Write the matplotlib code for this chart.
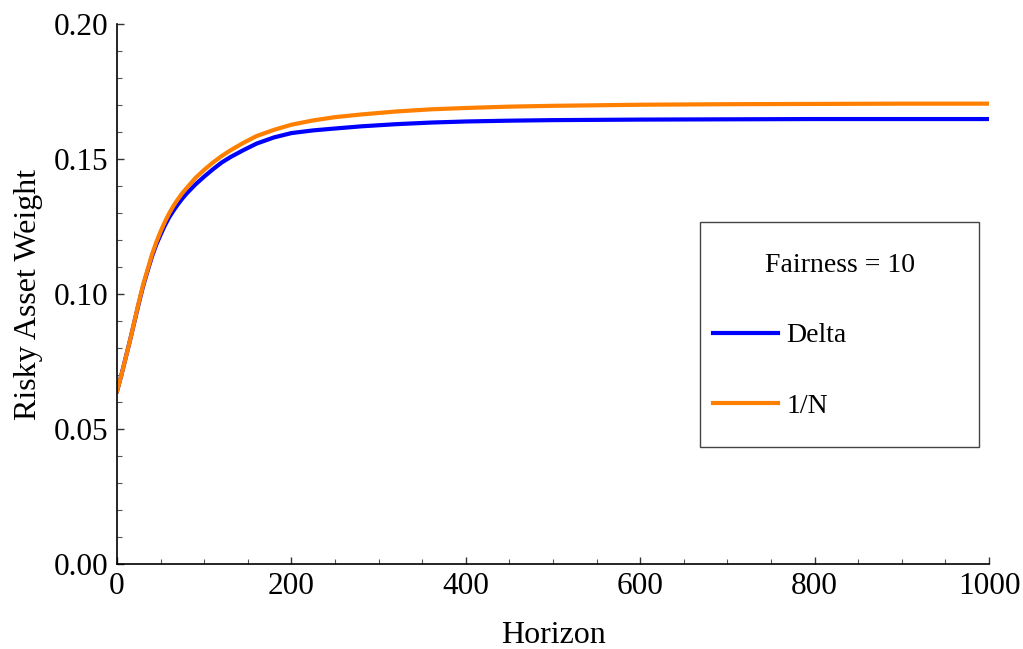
import numpy as np
import matplotlib.pyplot as plt
from matplotlib.patches import Rectangle
from matplotlib.ticker import MultipleLocator

plt.rcParams['font.family'] = ['Liberation Serif', 'DejaVu Serif']

# values
horizon = [0, 5, 10, 15, 20, 25, 30, 35, 40, 45, 50, 55, 60, 65, 70, 75, 80,
           90, 100, 110, 120, 130, 145, 160, 180, 200, 225, 250, 280, 320,
           360, 400, 450, 500, 600, 700, 800, 900, 1000]
delta = [0.0640, 0.0700, 0.0765, 0.0830, 0.0898, 0.0966, 0.1030, 0.1085,
         0.1138, 0.1183, 0.1220, 0.1255, 0.1285, 0.1310, 0.1333, 0.1354,
         0.1373, 0.1406, 0.1435, 0.1462, 0.1487, 0.1507, 0.1533, 0.1557,
         0.1580, 0.1596, 0.1606, 0.1613, 0.1621, 0.1629, 0.1635, 0.1639,
         0.1642, 0.1644, 0.1646, 0.1647, 0.1648, 0.1648, 0.1648]
one_over_n = [0.0640, 0.0700, 0.0765, 0.0830, 0.0900, 0.0970, 0.1035, 0.1090,
              0.1145, 0.1192, 0.1232, 0.1268, 0.1300, 0.1328, 0.1352, 0.1374,
              0.1393, 0.1430, 0.1460, 0.1487, 0.1511, 0.1532, 0.1560, 0.1585,
              0.1608, 0.1627, 0.1643, 0.1655, 0.1665, 0.1676, 0.1684, 0.1689,
              0.1694, 0.1697, 0.1701, 0.1703, 0.1704, 0.1705, 0.1705]

fig = plt.figure(figsize=(10.23, 6.49), dpi=100)
ax = fig.add_axes([0.1144, 0.131, 0.8524, 0.832])

ax.plot(horizon, delta, color='#0000FF', lw=3, label='Delta',
        solid_joinstyle='round')
ax.plot(horizon, one_over_n, color='#FF7F00', lw=3, label='1/N',
        solid_joinstyle='round')

ax.set_xlim(0, 1000)
ax.set_ylim(0, 0.2)
ax.xaxis.set_major_locator(MultipleLocator(200))
ax.xaxis.set_minor_locator(MultipleLocator(50))
ax.yaxis.set_major_locator(MultipleLocator(0.05))
ax.yaxis.set_minor_locator(MultipleLocator(0.01))
ax.yaxis.set_major_formatter(plt.FormatStrFormatter('%.2f'))

ax.spines['top'].set_visible(False)
ax.spines['right'].set_visible(False)
for s in ['left', 'bottom']:
    ax.spines[s].set_linewidth(1.2)

ax.tick_params(which='major', direction='in', length=5, width=1,
               color='#333333', labelsize=22.5, pad=6)
ax.tick_params(which='minor', direction='in', length=3.5, width=0.8,
               color='#555555')

ax.set_xlabel('Horizon', fontsize=23, labelpad=14)
ax.set_ylabel('Risky Asset Weight', fontsize=23, labelpad=8)

# legend box
ax.add_patch(Rectangle((0.6686, 0.2167), 0.32, 0.4163, transform=ax.transAxes,
                       fill=False, edgecolor='#444444', lw=1, clip_on=False))
leg = ax.legend(title='Fairness = 10', loc='upper left',
                bbox_to_anchor=(0.6835, 0.2167, 0.2902, 0.3593),
                mode='expand', frameon=False, borderpad=0, borderaxespad=0,
                fontsize=20, title_fontsize=20, handlelength=2.35,
                handletextpad=0.3, labelspacing=1.62)

fig.savefig('out.png', dpi=100)
